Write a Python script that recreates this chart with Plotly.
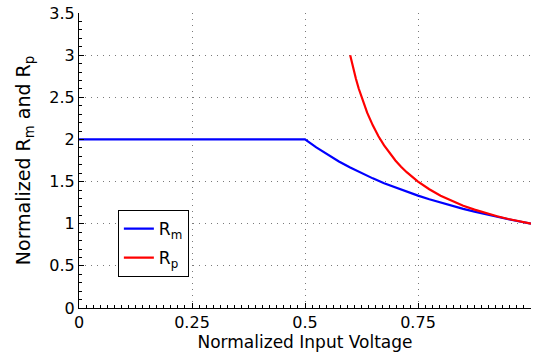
import plotly.graph_objects as go

# Data
x_m = [0.0, 0.25, 0.5, 0.525, 0.55, 0.575, 0.6, 0.625, 0.65, 0.675, 0.7, 0.725,
       0.75, 0.775, 0.8, 0.825, 0.85, 0.875, 0.9, 0.925, 0.95, 0.975, 1.0]
r_m = [2.0, 2.0, 2.0, 1.905, 1.818, 1.739, 1.667, 1.6, 1.538, 1.481, 1.429, 1.379,
       1.333, 1.290, 1.25, 1.212, 1.176, 1.143, 1.111, 1.081, 1.053, 1.026, 1.0]

x_p = [0.6, 0.6063, 0.6125, 0.6188, 0.625, 0.6313, 0.6375, 0.65, 0.6625, 0.675,
       0.6875, 0.7, 0.7125, 0.725, 0.75, 0.775, 0.8, 0.825, 0.85, 0.875, 0.9,
       0.925, 0.95, 0.975, 1.0]
r_p = [3.0, 2.853, 2.722, 2.604, 2.5, 2.404, 2.318, 2.167, 2.038, 1.929,
       1.833, 1.75, 1.676, 1.611, 1.5, 1.409, 1.333, 1.269, 1.214, 1.167, 1.125,
       1.088, 1.056, 1.026, 1.0]

x_ticks = [0, 0.25, 0.5, 0.75, 1]
x_tick_text = ["0", "0.25", "0.5", "0.75", "1"]
y_ticks = [0, 0.5, 1, 1.5, 2, 2.5, 3, 3.5]
y_tick_text = ["0", "0.5", "1", "1.5", "2", "2.5", "3", "3.5"]

font = "DejaVu Sans"

fig = go.Figure()
fig.add_trace(go.Scatter(x=x_m, y=r_m, mode="lines", name="R<sub>m</sub>",
                         legendgroup="m",
                         line=dict(color="#0000ff", width=2.2)))
fig.add_trace(go.Scatter(x=x_p, y=r_p, mode="lines", name="R<sub>p</sub>",
                         legendgroup="p",
                         line=dict(color="#ff0000", width=2.2)))

axis_common = dict(
    showline=True, linecolor="black", linewidth=1,
    ticks="inside", ticklen=5, tickcolor="black", tickwidth=1,
    showgrid=True, gridcolor="#7a7a7a", griddash="1px,5px", gridwidth=1,
    zeroline=False,
    tickfont=dict(family=font, size=16, color="black"),
)

fig.update_xaxes(range=[0, 1], tickvals=x_ticks, ticktext=x_tick_text,
                 minor=dict(ticks="inside", ticklen=3, tickcolor="black",
                            tickmode="linear", tick0=0, dtick=0.015625, showgrid=False),
                 title=dict(text="Normalized Input Voltage",
                            font=dict(family=font, size=17, color="black"), standoff=2),
                 **axis_common)
fig.update_yaxes(range=[0, 3.5], tickvals=y_ticks, ticktext=y_tick_text,
                 minor=dict(ticks="inside", ticklen=3, tickcolor="black",
                            tickmode="linear", tick0=0, dtick=0.1, showgrid=False),
                 title=dict(text="Normalized R<sub>m</sub> and R<sub>p</sub>",
                            font=dict(family=font, size=19, color="black"), standoff=13),
                 **axis_common)

fig.update_layout(
    width=535, height=360,
    margin=dict(l=79, r=4, t=13, b=52),
    plot_bgcolor="white", paper_bgcolor="white",
    showlegend=True,
    legend=dict(x=0.086, y=0.332, xanchor="left", yanchor="top",
                bgcolor="white", bordercolor="black", borderwidth=1,
                tracegroupgap=4, traceorder="grouped",
                font=dict(family=font, size=17, color="black")),
)

fig.write_html("out.html")
